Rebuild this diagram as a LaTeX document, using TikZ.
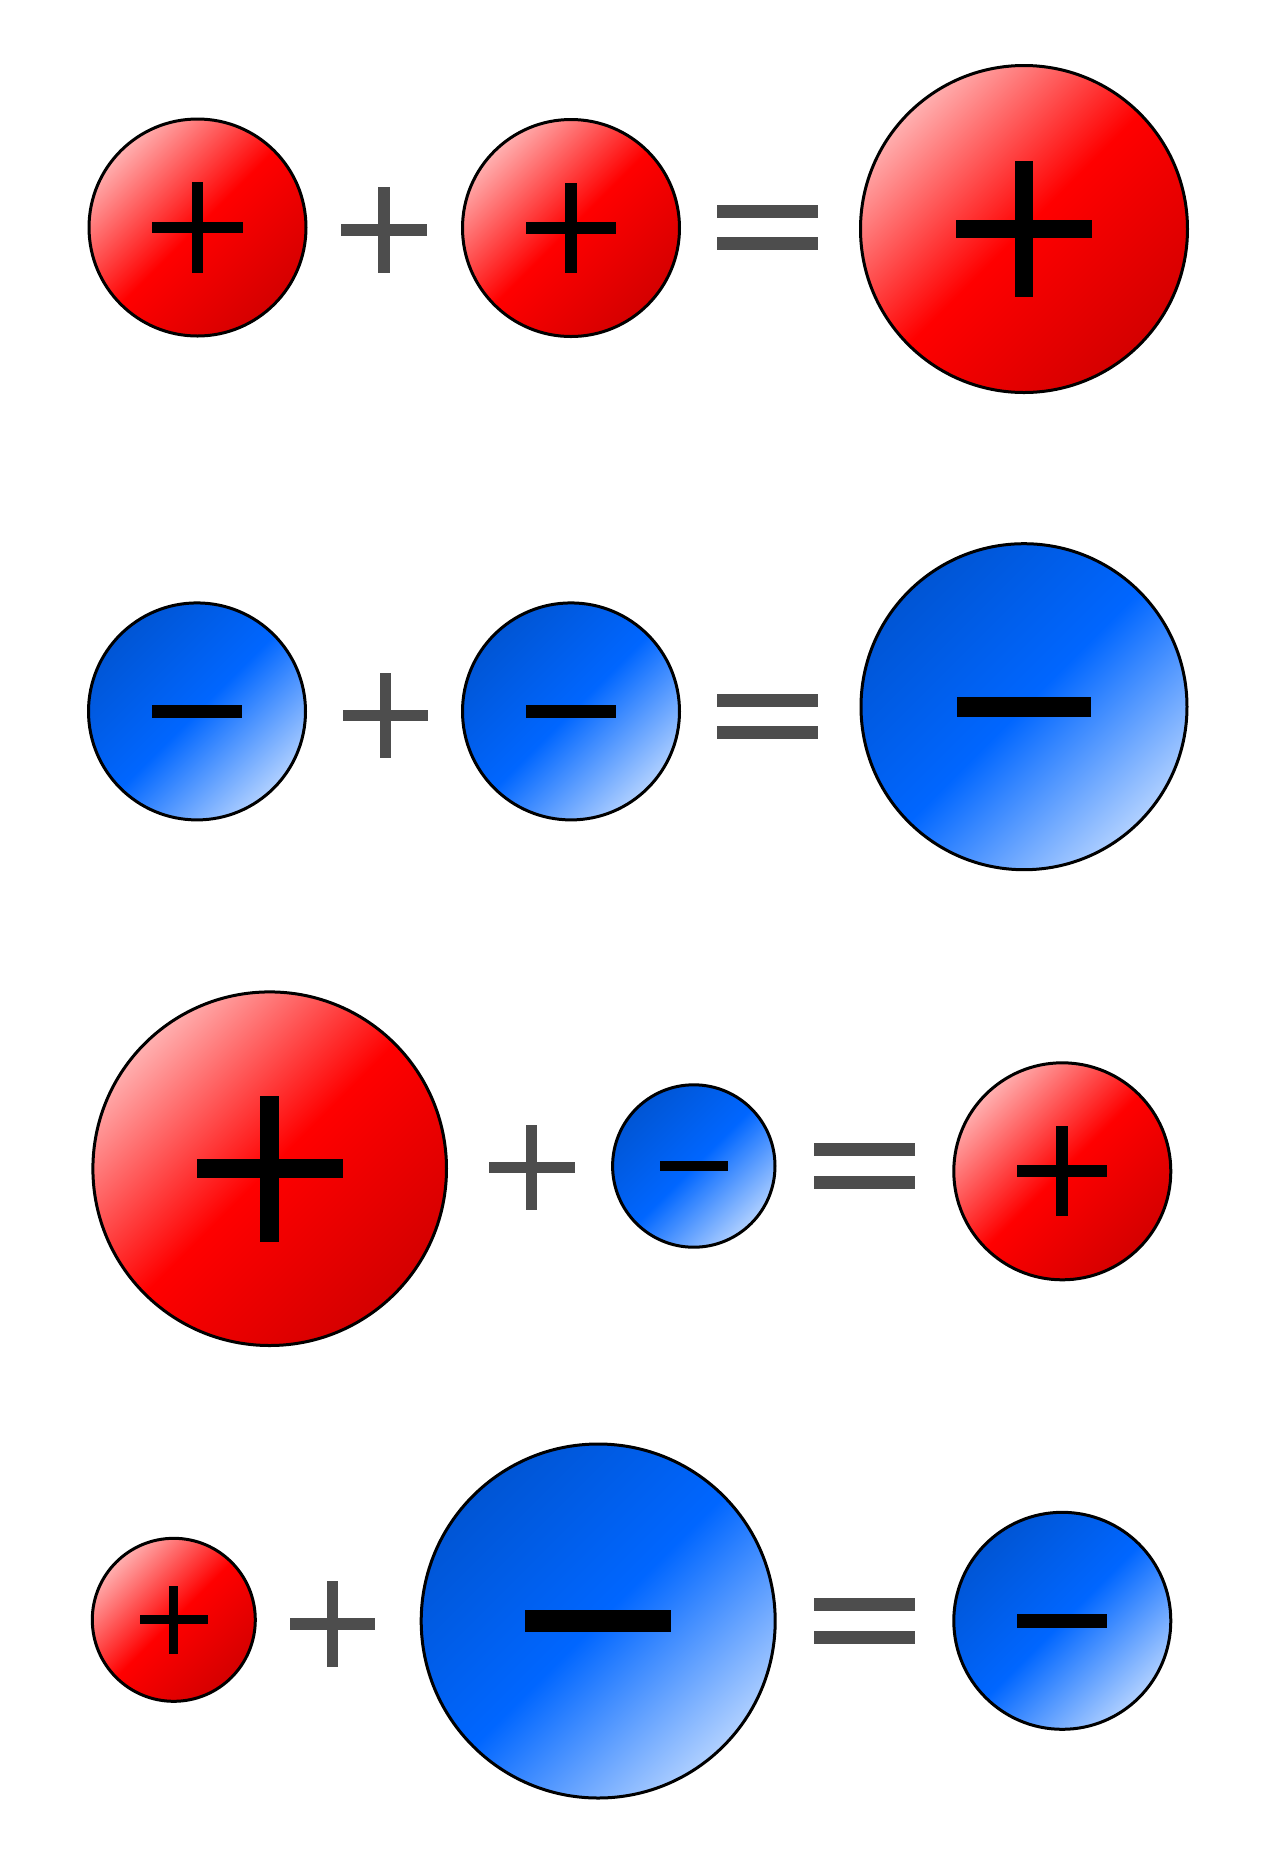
\documentclass[tikz,border=0pt]{standalone}
\usetikzlibrary{calc}
\definecolor{rlight}{HTML}{FFB0B0}
\definecolor{rmid}{HTML}{FF0000}
\definecolor{rdark}{HTML}{D40000}
\definecolor{blight}{HTML}{B0D0FF}
\definecolor{bmid}{HTML}{0066FF}
\definecolor{bdark}{HTML}{0055D4}
\definecolor{opgrey}{HTML}{4D4D4D}
\pgfdeclareverticalshading{redball}{100bp}{color(0bp)=(rdark); color(25bp)=(rdark); color(50bp)=(rmid); color(75bp)=(rlight); color(100bp)=(rlight)}
\pgfdeclareverticalshading{blueball}{100bp}{color(0bp)=(blight); color(25bp)=(blight); color(50bp)=(bmid); color(75bp)=(bdark); color(100bp)=(bdark)}
\tikzset{
  ball/.style={circle, draw=black, line width=1.2pt, inner sep=0pt, outer sep=0pt, shading angle=45},
  redb/.style={ball, shading=redball},
  blueb/.style={ball, shading=blueball},
}
% ball: name, x, y, outer radius (px)
\newcommand\mkball[5]{\node[#5, minimum size={(2*#4-3)*0.4pt}] (#1) at (#2,#3) {};}
% signs inside a ball: name, radius
\newcommand\posign[2]{%
  \fill[black] ($(#1)+(-0.41*#2,-0.0535*#2)$) rectangle ($(#1)+(0.41*#2,0.0535*#2)$);
  \fill[black] ($(#1)+(-0.0535*#2,-0.41*#2)$) rectangle ($(#1)+(0.0535*#2,0.41*#2)$);}
\newcommand\negsign[2]{%
  \fill[black] ($(#1)+(-0.41*#2,-0.0615*#2)$) rectangle ($(#1)+(0.41*#2,0.0615*#2)$);}
% grey operators
\newcommand\opplus[1]{%
  \fill[opgrey] ($(#1)+(-42.7,-5.6)$) rectangle ($(#1)+(42.7,5.6)$);
  \fill[opgrey] ($(#1)+(-5.6,-42.7)$) rectangle ($(#1)+(5.6,42.7)$);}
\newcommand\opeq[1]{%
  \fill[opgrey] ($(#1)+(-50.5,-22.7)$) rectangle ($(#1)+(50.5,-9.7)$);
  \fill[opgrey] ($(#1)+(-50.5,9.7)$) rectangle ($(#1)+(50.5,22.7)$);}
\begin{document}
\begin{tikzpicture}[x=0.4pt,y=-0.4pt]
\fill[white] (0,0) rectangle (1280,1849);
\useasboundingbox (0,0) rectangle (1280,1849);
% row 1
\mkball{a1}{197.5}{227.5}{110}{redb}
\coordinate (p1) at (384,230);
\mkball{b1}{571}{228}{110}{redb}
\coordinate (e1) at (767,227.5);
\mkball{c1}{1024}{229}{165}{redb}
\posign{a1}{110}\posign{b1}{110}\posign{c1}{165}
\opplus{p1}\opeq{e1}
% row 2
\mkball{a2}{197}{711.4}{110}{blueb}
\coordinate (p2) at (385.3,715.2);
\mkball{b2}{571}{711.4}{110}{blueb}
\coordinate (e2) at (767,716.7);
\mkball{c2}{1024}{706.7}{164.5}{blueb}
\negsign{a2}{110}\negsign{b2}{110}\negsign{c2}{164.5}
\opplus{p2}\opeq{e2}
% row 3
\mkball{a3}{269.7}{1168.7}{178.3}{redb}
\coordinate (p3) at (531.8,1167.4);
\mkball{b3}{693.8}{1166}{82.7}{blueb}
\coordinate (e3) at (864,1166);
\mkball{c3}{1062.3}{1171.3}{110}{redb}
\posign{a3}{178.3}\negsign{b3}{82.7}\posign{c3}{110}
\opplus{p3}\opeq{e3}
% row 4
\mkball{a4}{173.8}{1619.8}{83}{redb}
\coordinate (p4) at (332.7,1624);
\mkball{b4}{598.2}{1621}{178.5}{blueb}
\coordinate (e4) at (864,1621);
\mkball{c4}{1062.3}{1620.8}{110}{blueb}
\posign{a4}{83}\negsign{b4}{178.5}\negsign{c4}{110}
\opplus{p4}\opeq{e4}
\end{tikzpicture}
\end{document}
